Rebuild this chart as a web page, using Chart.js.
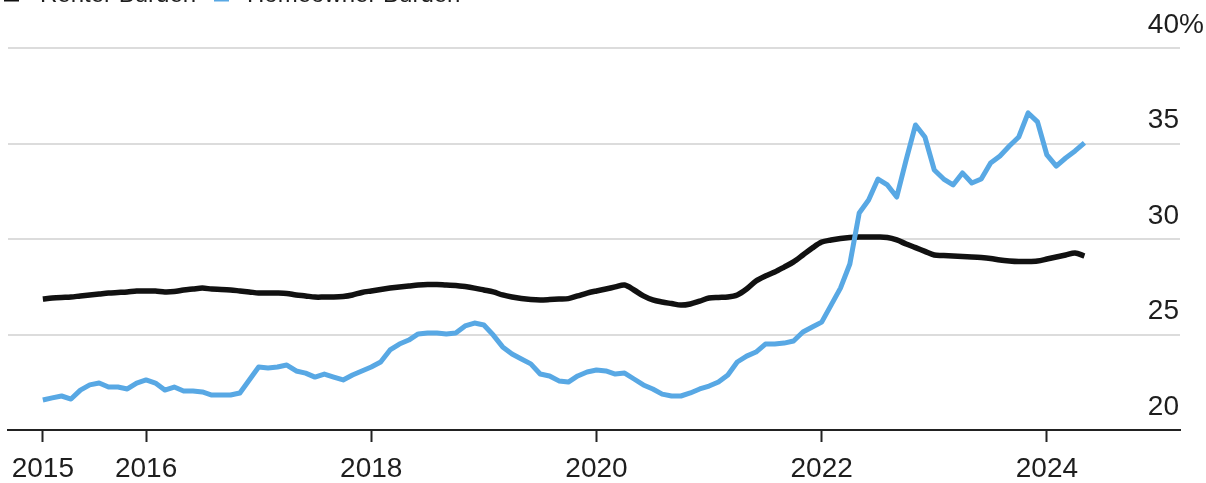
<!DOCTYPE html>
<html>
<head>
<meta charset="utf-8">
<script src="https://cdn.jsdelivr.net/npm/chart.js@4.4.1/dist/chart.umd.min.js"></script>
<style>
  html, body { margin: 0; padding: 0; background: #fff; overflow: hidden; width: 1206px; height: 483px; position: relative; }
  /* the canvas starts a little above the page so the legend row sits at the very top edge */
  #wrap { position: absolute; left: 0; top: -20px; width: 1206px; height: 503px; }
</style>
</head>
<body>
<div id="wrap"><canvas id="c" width="1206" height="503"></canvas></div>
<script>
// Monthly series, February 2015 through May 2024 (share of income, %)
const startYear = 2015;
const startMonth = 2;

const renterBurden = [
  26.86, 26.91, 26.94, 26.96, 27.02, 27.07, 27.12, 27.17, 27.20, 27.23, 27.28,
  27.28, 27.28, 27.23, 27.25, 27.33, 27.38, 27.43, 27.38, 27.36, 27.33, 27.28, 27.23,
  27.17, 27.17, 27.17, 27.15, 27.07, 27.02, 26.96, 26.96, 26.96, 26.99, 27.07, 27.20,
  27.28, 27.36, 27.43, 27.49, 27.54, 27.59, 27.62, 27.62, 27.59, 27.57, 27.51, 27.43,
  27.33, 27.23, 27.07, 26.96, 26.88, 26.83, 26.81, 26.83, 26.86, 26.88, 27.02, 27.17,
  27.28, 27.38, 27.49, 27.59, 27.33, 27.02, 26.81, 26.70, 26.62, 26.54, 26.60, 26.75,
  26.91, 26.94, 26.96, 27.07, 27.38, 27.80, 28.06, 28.27, 28.53, 28.80, 29.16, 29.53,
  29.84, 29.95, 30.03, 30.08, 30.10, 30.10, 30.10, 30.08, 29.95, 29.74, 29.55, 29.35,
  29.16, 29.14, 29.11, 29.08, 29.06, 29.03, 28.98, 28.90, 28.85, 28.82, 28.82, 28.85,
  28.95, 29.06, 29.16, 29.27, 29.11
];

const homeownerBurden = [
  21.57, 21.68, 21.78, 21.62, 22.09, 22.36, 22.46, 22.25, 22.25, 22.15, 22.46,
  22.62, 22.46, 22.09, 22.25, 22.04, 22.04, 21.99, 21.83, 21.83, 21.83, 21.94, 22.62,
  23.30, 23.25, 23.30, 23.40, 23.09, 22.98, 22.77, 22.93, 22.77, 22.62, 22.88, 23.09,
  23.30, 23.56, 24.19, 24.50, 24.71, 25.03, 25.08, 25.08, 25.03, 25.08, 25.45, 25.60,
  25.50, 24.97, 24.35, 23.98, 23.72, 23.46, 22.93, 22.83, 22.57, 22.51, 22.83, 23.04,
  23.14, 23.09, 22.93, 22.98, 22.67, 22.36, 22.15, 21.88, 21.78, 21.78, 21.94, 22.15,
  22.30, 22.51, 22.88, 23.56, 23.87, 24.08, 24.50, 24.50, 24.55, 24.66, 25.13, 25.39,
  25.65, 26.54, 27.43, 28.69, 31.36, 32.04, 33.14, 32.83, 32.20, 34.14, 35.97, 35.34,
  33.61, 33.14, 32.83, 33.46, 32.93, 33.14, 33.98, 34.35, 34.87, 35.34, 36.60, 36.13,
  34.40, 33.82, 34.24, 34.61, 35.03
];

const seriesNames = ['Renter Burden', 'Homeowner Burden'];
const seriesColors = ['#111111', '#58A8E4'];

const xTickValues = [2015 + 1 / 12, 2016, 2018, 2020, 2022, 2024];
const xTickLabels = ['2015', '2016', '2018', '2020', '2022', '2024'];
const yTickValues = [20, 25, 30, 35, 40];
const yTickLabels = ['20', '25', '30', '35', '40'];

const monthPos = i => startYear + (startMonth - 1 + i) / 12;
const toPoints = arr => arr.map((v, i) => ({ x: monthPos(i), y: v }));

const FONT = '"Liberation Sans", Arial, Helvetica, sans-serif';
const TEXT = '#1e1e1e';

// Draws the right-hand value labels above each gridline and the legend row
const sideText = {
  id: 'sideText',
  afterDraw(chart) {
    const ctx = chart.ctx;
    const yScale = chart.scales.y;
    ctx.save();
    ctx.fillStyle = TEXT;
    ctx.font = '28px ' + FONT;
    ctx.textBaseline = 'middle';
    const rightEdge = 1179;
    yTickValues.forEach((v, i) => {
      const py = yScale.getPixelForValue(v) - 23;
      ctx.textAlign = 'right';
      ctx.fillText(yTickLabels[i], rightEdge, py);
      if (i === yTickValues.length - 1) {
        ctx.textAlign = 'left';
        ctx.fillText('%', rightEdge, py);
      }
    });

    // legend
    const base = 21.5;
    ctx.font = '24px ' + FONT;
    ctx.textBaseline = 'alphabetic';
    ctx.textAlign = 'left';
    const items = [
      { box: 4, text: 40 },
      { box: 214, text: 247 }
    ];
    items.forEach((it, i) => {
      ctx.fillStyle = seriesColors[i];
      ctx.fillRect(it.box, base - 15, 15, 15);
      ctx.fillStyle = TEXT;
      ctx.fillText(seriesNames[i], it.text, base);
    });
    ctx.restore();
  }
};

new Chart(document.getElementById('c'), {
  type: 'line',
  data: {
    datasets: [
      {
        label: seriesNames[1],
        data: toPoints(homeownerBurden),
        borderColor: seriesColors[1],
        borderWidth: 5,
        pointRadius: 0,
        tension: 0,
        borderJoinStyle: 'round',
        order: 0
      },
      {
        label: seriesNames[0],
        data: toPoints(renterBurden),
        borderColor: seriesColors[0],
        borderWidth: 5.5,
        pointRadius: 0,
        tension: 0.3,
        borderJoinStyle: 'round',
        order: 1
      }
    ]
  },
  options: {
    responsive: false,
    animation: false,
    layout: { padding: { left: 8, top: 68, right: 0, bottom: 0 } },
    plugins: { legend: { display: false }, tooltip: { enabled: false } },
    scales: {
      x: {
        type: 'linear',
        min: 2014.774,
        max: 2025.182,
        afterBuildTicks(scale) {
          scale.ticks = xTickValues.map(v => ({ value: v }));
        },
        afterFit(scale) { scale.height = 53; },
        ticks: {
          autoSkip: false,
          maxRotation: 0,
          padding: 10,
          color: TEXT,
          font: { family: FONT, size: 28 },
          callback: (value) => {
            const idx = xTickValues.findIndex(t => Math.abs(t - value) < 1e-6);
            return idx >= 0 ? xTickLabels[idx] : '';
          }
        },
        grid: {
          drawOnChartArea: false,
          drawTicks: true,
          tickLength: 12,
          tickColor: '#222',
          tickWidth: 2
        },
        border: { display: true, color: '#222', width: 2 }
      },
      y: {
        position: 'right',
        min: 20,
        max: 40,
        afterBuildTicks(scale) {
          scale.ticks = yTickValues.map(v => ({ value: v }));
        },
        afterFit(scale) { scale.width = 26; },
        ticks: { display: false },
        grid: {
          color: '#dcdcdc',
          lineWidth: 2,
          drawTicks: false
        },
        border: { display: false }
      }
    }
  },
  plugins: [sideText]
});
</script>
</body>
</html>
